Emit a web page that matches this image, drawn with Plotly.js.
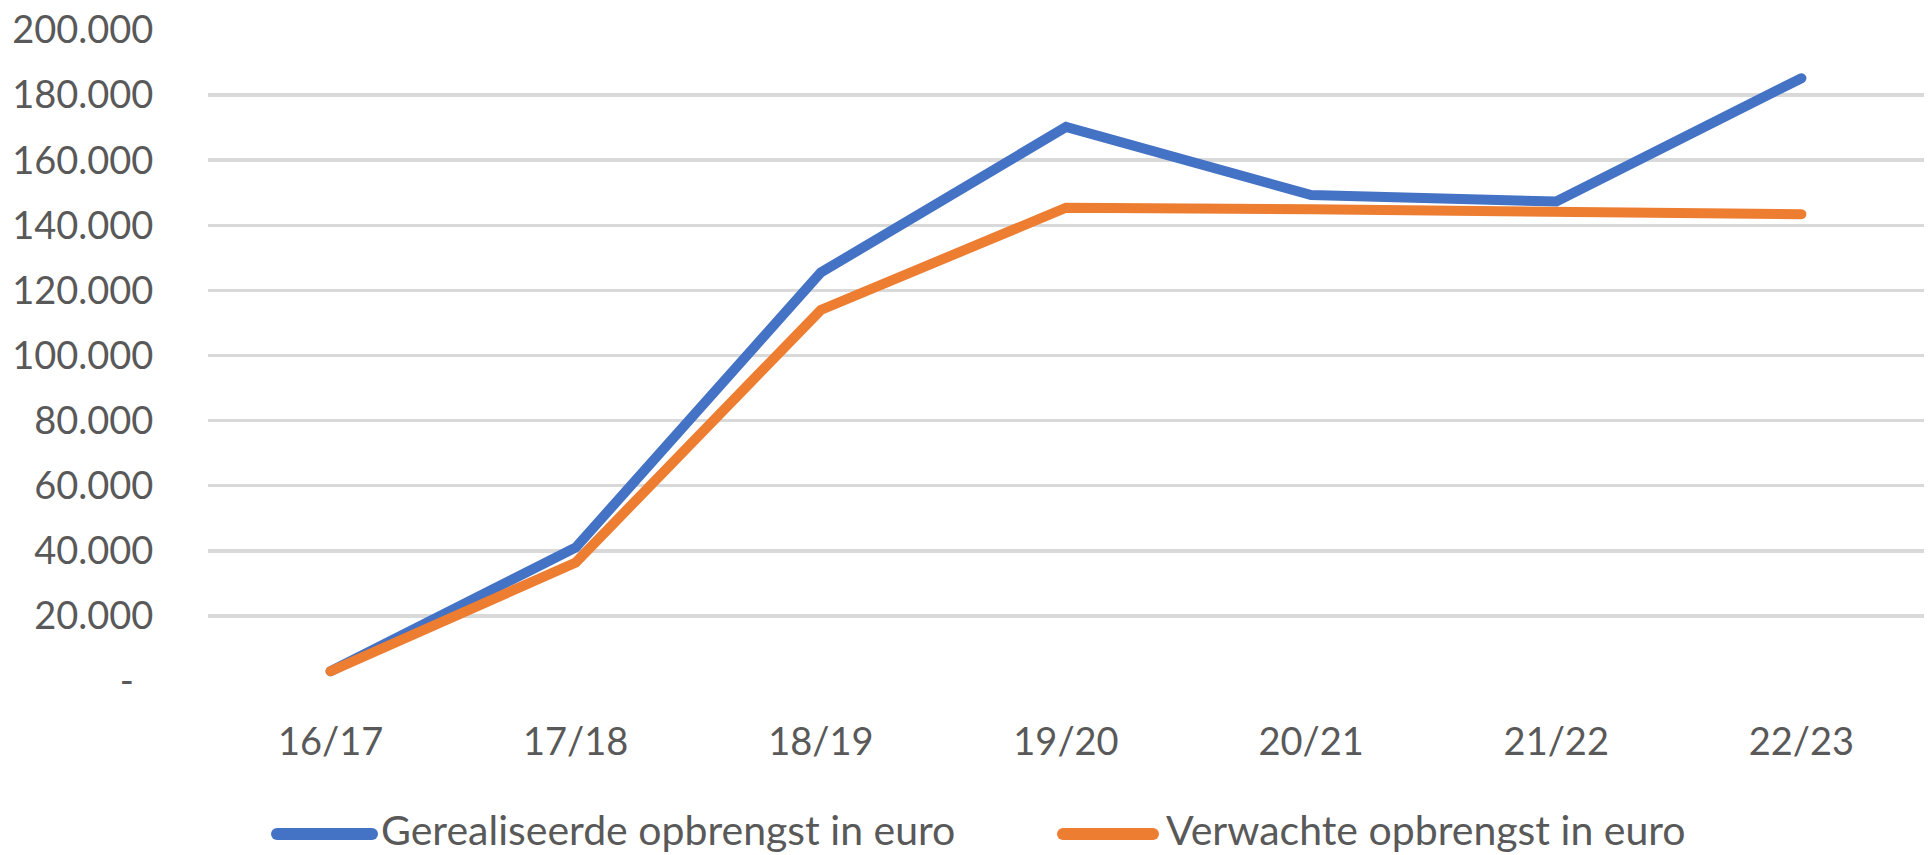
<!DOCTYPE html>
<html>
<head>
<meta charset="utf-8">
<script src="https://cdn.plot.ly/plotly-3.0.1.min.js"></script>
<style>
html,body{margin:0;padding:0;background:#fff;}
#chart{width:1930px;height:855px;}
.scatterlayer .js-line{stroke-linecap:round;}
.shapelayer path{stroke-linecap:round;}
</style>
</head>
<body>
<div id="chart"></div>
<script>
const categories = ["16/17","17/18","18/19","19/20","20/21","21/22","22/23"];
const gerealiseerde = [3000, 41000, 125500, 170200, 149300, 147300, 185200];
const verwachte = [3000, 36400, 114000, 145400, 144900, 144200, 143400];
const seriesNames = ["Gerealiseerde opbrengst in euro", "Verwachte opbrengst in euro"];
const yTickVals = [0, 20000, 40000, 60000, 80000, 100000, 120000, 140000, 160000, 180000, 200000];
const yTickText = ["-\u00a0\u00a0", "20.000", "40.000", "60.000", "80.000", "100.000", "120.000", "140.000", "160.000", "180.000", "200.000"];

const blue = "#4472C4", orange = "#ED7D31";
const fontFam = "Lato, 'Open Sans', sans-serif";

const traces = [
  {x: categories, y: gerealiseerde, name: seriesNames[0], type: "scatter", mode: "lines",
   line: {color: blue, width: 10}},
  {x: categories, y: verwachte, name: seriesNames[1], type: "scatter", mode: "lines",
   line: {color: orange, width: 10}}
];

const H = 855, W = 1930;
const plotL = 208, plotT = 30, plotW = 1716, plotH = 651;
const legendY = 834;
const py = (681 - legendY) / plotH;
const px = v => (v - plotL) / plotW;
const layout = {
  width: W, height: H,
  margin: {l: plotL, r: W - plotL - plotW, t: plotT, b: H - plotT - plotH},
  paper_bgcolor: "#fff", plot_bgcolor: "#fff",
  showlegend: false,
  font: {family: fontFam, color: "#595959", size: 38},
  xaxis: {
    type: "category", range: [-0.5, 6.5], showgrid: false, zeroline: false, showline: false,
    ticks: "outside", ticklen: 0, ticklabelstandoff: 27,
    tickfont: {family: fontFam, size: 38, color: "#595959"}
  },
  yaxis: {
    range: [0, 200000], tickvals: yTickVals, ticktext: yTickText,
    showgrid: true, gridcolor: "#D9D9D9", gridwidth: 3.5, zeroline: false, showline: false,
    ticks: "outside", ticklen: 0, ticklabelstandoff: 46,
    tickfont: {family: fontFam, size: 38, color: "#595959"}
  },
  shapes: [
    {type: "line", xref: "paper", yref: "paper",
     x0: px(277), x1: px(372), y0: py, y1: py,
     line: {color: blue, width: 12}},
    {type: "line", xref: "paper", yref: "paper",
     x0: px(1063), x1: px(1153), y0: py, y1: py,
     line: {color: orange, width: 12}}
  ],
  annotations: [
    {text: seriesNames[0], xref: "paper", yref: "paper", x: px(379), y: py,
     xanchor: "left", yanchor: "middle", showarrow: false, yshift: 5,
     font: {family: fontFam, size: 41, color: "#595959"}},
    {text: seriesNames[1], xref: "paper", yref: "paper", x: px(1164), y: py,
     xanchor: "left", yanchor: "middle", showarrow: false, yshift: 5,
     font: {family: fontFam, size: 41, color: "#595959"}}
  ]
};

Plotly.newPlot("chart", traces, layout, {displayModeBar: false, staticPlot: true});
</script>
</body>
</html>
